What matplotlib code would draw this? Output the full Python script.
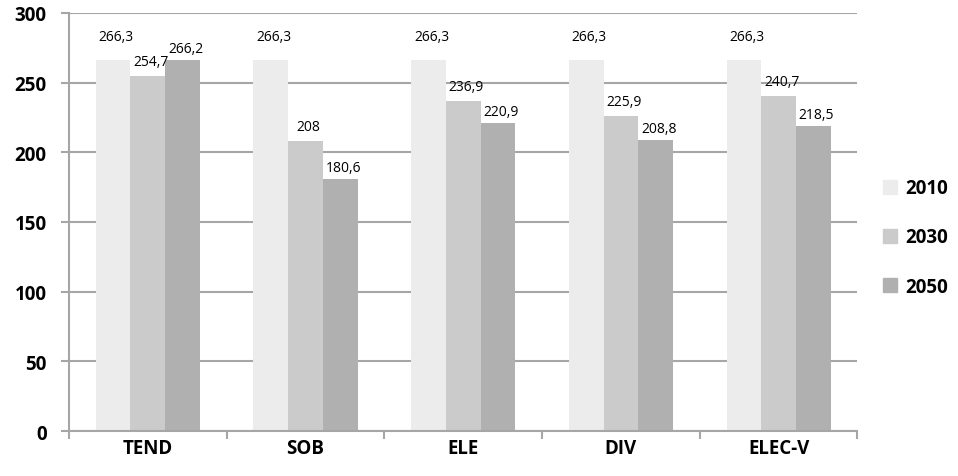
import numpy as np
import matplotlib.pyplot as plt
from matplotlib.patches import Patch

plt.rcParams['font.family'] = ['Open Sans', 'DejaVu Sans']

scenarios = ['TEND', 'SOB', 'ELE', 'DIV', 'ELEC-V']
years = ['2010', '2030', '2050']
v2010 = [266.3, 266.3, 266.3, 266.3, 266.3]
v2030 = [254.7, 208.0, 236.9, 225.9, 240.7]
v2050 = [266.2, 180.6, 220.9, 208.8, 218.5]
colors = ['#ebeceb', '#cbcbcb', '#b0b0b0']
grid_col = '#a6a6a6'

fig = plt.figure(figsize=(9.58, 4.77), dpi=100)
ax = fig.add_axes([0.072, 0.094, 0.823, 0.877])

x = np.arange(len(scenarios))
w = 0.22
offsets = [11, 5, 3]
for i, (vals, c) in enumerate(zip([v2010, v2030, v2050], colors)):
    pos = x + (i - 1) * w
    ax.bar(pos, vals, width=w, color=c, zorder=2)
    for px, v in zip(pos, vals):
        lab = ('%g' % v).replace('.', ',')
        ax.text(px + 0.02, v + offsets[i], lab, ha='center', va='bottom',
                fontsize=10, zorder=3)

ax.set_xlim(-0.5, len(scenarios) - 0.5)
ax.set_ylim(0, 300)
ax.set_yticks(np.arange(0, 301, 50))
ax.yaxis.grid(True, color=grid_col, linewidth=1.5, zorder=0)
ax.set_axisbelow(True)

ax.set_xticks(x)
ax.set_xticklabels(scenarios, fontsize=13.5, fontweight='bold')
ax.set_xticks(np.arange(-0.5, len(scenarios)), minor=True)
ax.tick_params(axis='x', which='major', length=0, pad=5)
ax.tick_params(axis='x', which='minor', length=6, width=1.5, color=grid_col)
ax.tick_params(axis='y', length=6, width=1.5, color=grid_col, labelsize=13.5, pad=10)
for t in ax.get_yticklabels():
    t.set_fontweight('bold')

for s in ['top', 'right']:
    ax.spines[s].set_visible(False)
for s in ['left', 'bottom']:
    ax.spines[s].set_color(grid_col)
    ax.spines[s].set_linewidth(1.5)

handles = [Patch(color=c) for c in colors]
fig.legend(handles, years, loc='center left', bbox_to_anchor=(0.922, 0.50),
           frameon=False, borderpad=0, borderaxespad=0,
           handlelength=0.75, handleheight=0.75, handletextpad=0.4,
           labelspacing=1.55, prop={'weight': 'bold', 'size': 13.5})

fig.savefig('out.png', dpi=100)
